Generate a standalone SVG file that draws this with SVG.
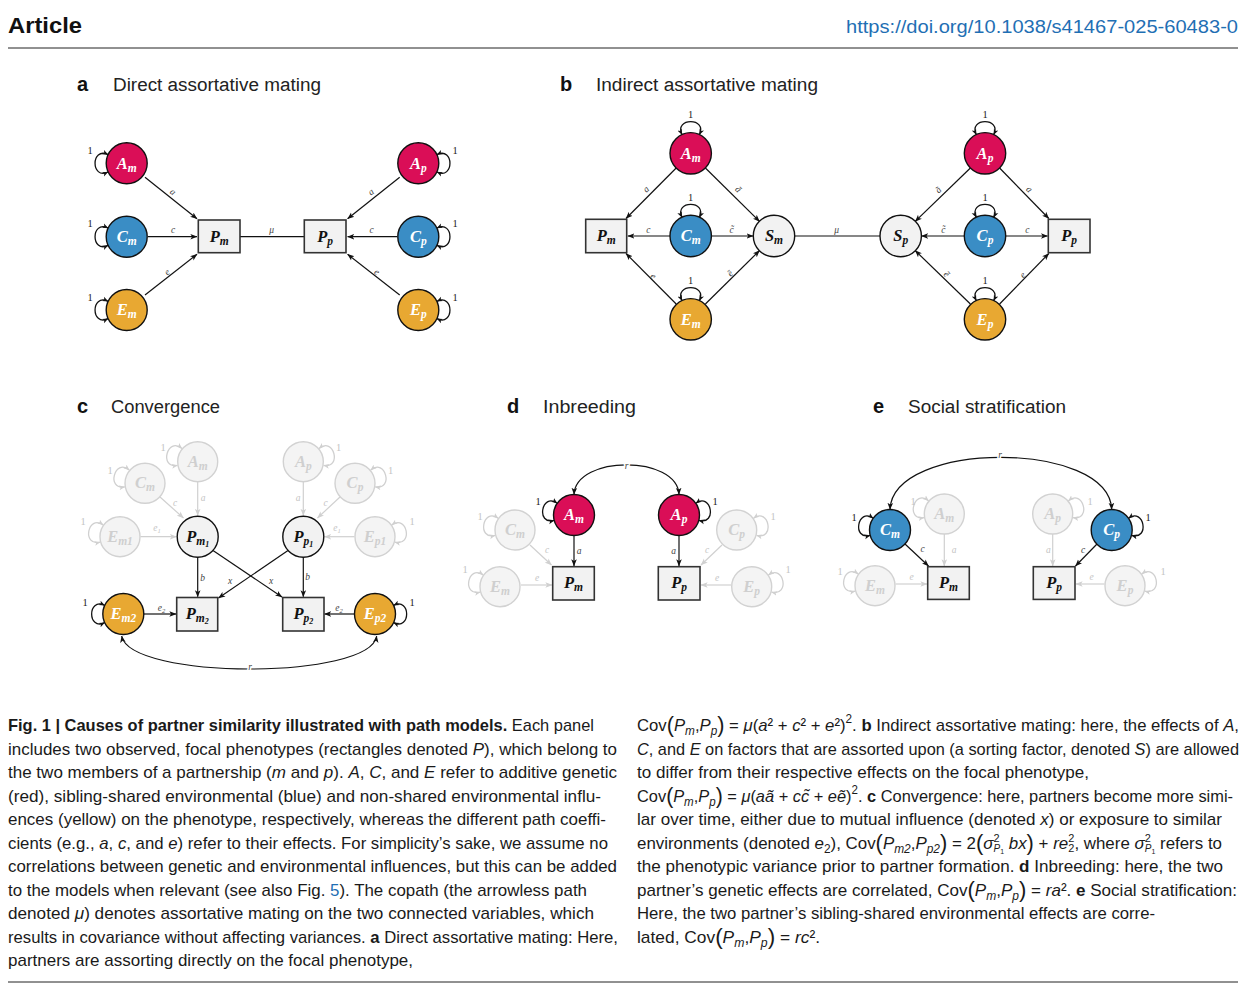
<svg xmlns="http://www.w3.org/2000/svg" width="1251" height="999" viewBox="0 0 1251 999">
<defs>
<style>
.hdr{font-family:"Liberation Sans",Arial,sans-serif}
.ttl{font-family:"Liberation Sans",Arial,sans-serif;font-size:18px;fill:#222}
.plab{font-family:"Liberation Sans",Arial,sans-serif;font-size:20px;font-weight:bold;fill:#111}
.cap{font-family:"Liberation Sans",Arial,sans-serif;font-size:17px;fill:#1a1a1a}
.i{font-style:italic}
.b{font-weight:bold}
.red{fill:#DA0E57;stroke:#111;stroke-width:1.4}
.blue{fill:#3A8DC5;stroke:#111;stroke-width:1.4}
.yel{fill:#E8A832;stroke:#111;stroke-width:1.4}
.gry{fill:#F2F2F2;stroke:#111;stroke-width:1.4}
.fad{fill:#F4F4F4;stroke:#D2D2D2;stroke-width:1.4}
.box{fill:#F2F2F2;stroke:#333;stroke-width:1.6}
.nl{font-family:"Liberation Serif","DejaVu Serif",serif;font-style:italic;font-weight:bold;font-size:16.5px;text-anchor:middle}
.s{font-size:11.5px}
.ss{font-size:8px}
.w{fill:#fff}.k{fill:#111}.f{fill:#CFCFCF}
.e{fill:none;stroke:#111;stroke-width:1.2;marker-end:url(#ah)}
.e2{fill:none;stroke:#111;stroke-width:1.2;marker-start:url(#ah);marker-end:url(#ah)}
.cp{fill:none;stroke:#111;stroke-width:1.2}
.ef{fill:none;stroke:#D0D0D0;stroke-width:1.2;marker-end:url(#ahf)}
.lp{fill:none;stroke:#111;stroke-width:1.3;marker-start:url(#lh);marker-end:url(#lh)}
.lpf{fill:none;stroke:#D0D0D0;stroke-width:1.3;marker-start:url(#lhf);marker-end:url(#lhf)}
.el{font-family:"Liberation Serif","DejaVu Serif",serif;font-style:italic;font-size:9.5px;fill:#444;text-anchor:middle}
.elf{fill:#C4C4C4}
.halo{paint-order:stroke;stroke:#fff;stroke-width:3}
.one{font-family:"Liberation Serif","DejaVu Serif",serif;font-size:10.5px;fill:#222;text-anchor:middle}
.onef{fill:#C4C4C4}
</style>
<marker id="ah" viewBox="0 0 10 10" refX="9.5" refY="5" markerWidth="7" markerHeight="7" markerUnits="userSpaceOnUse" orient="auto-start-reverse"><path d="M0,1 L10,5 L0,9 L2.5,5 z" fill="#111"/></marker>
<marker id="ahf" viewBox="0 0 10 10" refX="9.5" refY="5" markerWidth="7" markerHeight="7" markerUnits="userSpaceOnUse" orient="auto-start-reverse"><path d="M0,1 L10,5 L0,9 L2.5,5 z" fill="#D0D0D0"/></marker>
<marker id="lh" viewBox="0 0 10 10" refX="9.5" refY="5" markerWidth="6" markerHeight="6" markerUnits="userSpaceOnUse" orient="auto-start-reverse"><path d="M0,1 L10,5 L0,9 L2.5,5 z" fill="#111"/></marker>
<marker id="lhf" viewBox="0 0 10 10" refX="9.5" refY="5" markerWidth="6" markerHeight="6" markerUnits="userSpaceOnUse" orient="auto-start-reverse"><path d="M0,1 L10,5 L0,9 L2.5,5 z" fill="#D0D0D0"/></marker>
</defs>
<rect width="1251" height="999" fill="#fff"/>

<g id="header">
<text class="hdr" x="8" y="33" font-size="22" font-weight="bold" fill="#111" textLength="74" lengthAdjust="spacingAndGlyphs">Article</text>
<text class="hdr" x="846" y="33" font-size="17.5" fill="#1F6FB4" textLength="392" lengthAdjust="spacingAndGlyphs">https://doi.org/10.1038/s41467-025-60483-0</text>
<line x1="8" y1="48" x2="1238" y2="48" stroke="#222" stroke-width="1"/>
<line x1="8" y1="982" x2="1238" y2="982" stroke="#222" stroke-width="1"/>
</g>

<g id="titles">
<text class="plab" x="77" y="91">a</text>
<text class="ttl" x="113" y="91" textLength="208" lengthAdjust="spacingAndGlyphs">Direct assortative mating</text>
<text class="plab" x="560" y="91">b</text>
<text class="ttl" x="596" y="91" textLength="222" lengthAdjust="spacingAndGlyphs">Indirect assortative mating</text>
<text class="plab" x="77" y="413">c</text>
<text class="ttl" x="111" y="413" textLength="109" lengthAdjust="spacingAndGlyphs">Convergence</text>
<text class="plab" x="507" y="413">d</text>
<text class="ttl" x="543" y="413" textLength="93" lengthAdjust="spacingAndGlyphs">Inbreeding</text>
<text class="plab" x="873" y="413">e</text>
<text class="ttl" x="908" y="413" textLength="158" lengthAdjust="spacingAndGlyphs">Social stratification</text>
</g>

<!-- ================= PANEL A ================= -->
<g id="a-connectors">
<line class="e" x1="145" y1="177.3" x2="197" y2="218.8"/>
<line class="e" x1="148" y1="236.7" x2="197" y2="236.7"/>
<line class="e" x1="145" y1="295" x2="197" y2="254.3"/>
<line class="cp" x1="240" y1="236.7" x2="304.3" y2="236.7"/>
<line class="e" x1="399.7" y1="177.3" x2="347.6" y2="218.8"/>
<line class="e" x1="397" y1="236.7" x2="347.6" y2="236.7"/>
<line class="e" x1="399.7" y1="295" x2="347.6" y2="254.3"/>
<path class="lp" transform="translate(126.7,163.3)" d="M-18.6,-8.7 C-36,-17 -36,17 -18.6,8.7"/>
<path class="lp" transform="translate(126.7,236.7)" d="M-18.6,-8.7 C-36,-17 -36,17 -18.6,8.7"/>
<path class="lp" transform="translate(126.7,310)" d="M-18.6,-8.7 C-36,-17 -36,17 -18.6,8.7"/>
<path class="lp" transform="translate(418.3,163.3) rotate(180)" d="M-18.6,-8.7 C-36,-17 -36,17 -18.6,8.7"/>
<path class="lp" transform="translate(418.3,236.7) rotate(180)" d="M-18.6,-8.7 C-36,-17 -36,17 -18.6,8.7"/>
<path class="lp" transform="translate(418.3,310) rotate(180)" d="M-18.6,-8.7 C-36,-17 -36,17 -18.6,8.7"/>
<text class="el" transform="translate(173,192) rotate(39)" y="3">a</text>
<text class="el" x="173" y="233">c</text>
<text class="el" transform="translate(167,272) rotate(-38)" y="3">e</text>
<text class="el" x="271.7" y="233">μ</text>
<text class="el" transform="translate(371,192) rotate(-39)" y="3">a</text>
<text class="el" x="371.7" y="233">c</text>
<text class="el" transform="translate(377,272) rotate(38)" y="3">e</text>
<text class="one" x="90" y="153.8">1</text>
<text class="one" x="90" y="227.2">1</text>
<text class="one" x="90" y="300.5">1</text>
<text class="one" x="455" y="153.8">1</text>
<text class="one" x="455" y="227.2">1</text>
<text class="one" x="455" y="300.5">1</text>
</g>
<g id="a-Am"><circle class="red" cx="126.7" cy="163.3" r="20.5"/><text class="nl w" x="126.7" y="168.5">A<tspan dy="3" class="s">m</tspan></text></g>
<g id="a-Cm"><circle class="blue" cx="126.7" cy="236.7" r="20.5"/><text class="nl w" x="126.7" y="241.9">C<tspan dy="3" class="s">m</tspan></text></g>
<g id="a-Em"><circle class="yel" cx="126.7" cy="310" r="20.5"/><text class="nl w" x="126.7" y="315.2">E<tspan dy="3" class="s">m</tspan></text></g>
<g id="a-Pm"><rect class="box" x="198.3" y="220" width="41.7" height="32.7"/><text class="nl k" x="219.2" y="241.6">P<tspan dy="3" class="s">m</tspan></text></g>
<g id="a-Pp"><rect class="box" x="304.3" y="220" width="41.7" height="32.7"/><text class="nl k" x="325.2" y="241.6">P<tspan dy="3" class="s">p</tspan></text></g>
<g id="a-Ap"><circle class="red" cx="418.3" cy="163.3" r="20.5"/><text class="nl w" x="418.3" y="168.5">A<tspan dy="3" class="s">p</tspan></text></g>
<g id="a-Cp"><circle class="blue" cx="418.3" cy="236.7" r="20.5"/><text class="nl w" x="418.3" y="241.9">C<tspan dy="3" class="s">p</tspan></text></g>
<g id="a-Ep"><circle class="yel" cx="418.3" cy="310" r="20.5"/><text class="nl w" x="418.3" y="315.2">E<tspan dy="3" class="s">p</tspan></text></g>

<!-- ================= PANEL B ================= -->
<g id="b-connectors">
<line class="e" x1="676.2" y1="168" x2="626" y2="218.5"/>
<line class="e" x1="705.4" y1="168" x2="759.5" y2="221.4"/>
<line class="e" x1="670" y1="236" x2="627.8" y2="236"/>
<line class="e" x1="711.4" y1="236" x2="753.2" y2="236"/>
<line class="e" x1="676.2" y1="304" x2="626" y2="253.5"/>
<line class="e" x1="705.4" y1="304" x2="759.5" y2="250.6"/>
<line class="cp" x1="794.7" y1="236" x2="880" y2="236"/>
<line class="e" x1="970.4" y1="168" x2="915.2" y2="221.4"/>
<line class="e" x1="999.6" y1="168" x2="1048.8" y2="218.5"/>
<line class="e" x1="964.3" y1="236" x2="921.5" y2="236"/>
<line class="e" x1="1005.7" y1="236" x2="1047.6" y2="236"/>
<line class="e" x1="970.4" y1="304" x2="915.2" y2="250.6"/>
<line class="e" x1="999.6" y1="304" x2="1048.8" y2="253.5"/>
<path class="lp" transform="translate(690.7,153.3) rotate(90)" d="M-18.6,-8.7 C-36,-17 -36,17 -18.6,8.7"/>
<path class="lp" transform="translate(690.7,236) rotate(90)" d="M-18.6,-8.7 C-36,-17 -36,17 -18.6,8.7"/>
<path class="lp" transform="translate(690.7,319.3) rotate(90)" d="M-18.6,-8.7 C-36,-17 -36,17 -18.6,8.7"/>
<path class="lp" transform="translate(985,153.3) rotate(90)" d="M-18.6,-8.7 C-36,-17 -36,17 -18.6,8.7"/>
<path class="lp" transform="translate(985,236) rotate(90)" d="M-18.6,-8.7 C-36,-17 -36,17 -18.6,8.7"/>
<path class="lp" transform="translate(985,319.3) rotate(90)" d="M-18.6,-8.7 C-36,-17 -36,17 -18.6,8.7"/>
<text class="one" x="690.7" y="117.5">1</text>
<text class="one" x="690.7" y="200.5">1</text>
<text class="one" x="690.7" y="284">1</text>
<text class="one" x="985" y="117.5">1</text>
<text class="one" x="985" y="200.5">1</text>
<text class="one" x="985" y="284">1</text>
<text class="el" transform="translate(646,189.3) rotate(-45)" y="3">a</text>
<text class="el" transform="translate(738.3,189.3) rotate(45)" y="3">ã</text>
<text class="el" x="648.3" y="233">c</text>
<text class="el" x="731.7" y="233">c̃</text>
<text class="el" transform="translate(653.3,276) rotate(45)" y="3">e</text>
<text class="el" transform="translate(730,273.3) rotate(-45)" y="3">ẽ</text>
<text class="el" x="836.7" y="233">μ</text>
<text class="el" transform="translate(938.3,190) rotate(-45)" y="3">ã</text>
<text class="el" transform="translate(1029.3,189.3) rotate(45)" y="3">a</text>
<text class="el" x="943.3" y="233">c̃</text>
<text class="el" x="1027.3" y="233">c</text>
<text class="el" transform="translate(946.7,274) rotate(45)" y="3">ẽ</text>
<text class="el" transform="translate(1022.7,275) rotate(-45)" y="3">e</text>
</g>
<g id="b-Am"><circle class="red" cx="690.7" cy="153.3" r="20.7"/><text class="nl w" x="690.7" y="158.5">A<tspan dy="3" class="s">m</tspan></text></g>
<g id="b-Cm"><circle class="blue" cx="690.7" cy="236" r="20.7"/><text class="nl w" x="690.7" y="241.2">C<tspan dy="3" class="s">m</tspan></text></g>
<g id="b-Em"><circle class="yel" cx="690.7" cy="319.3" r="20.7"/><text class="nl w" x="690.7" y="324.5">E<tspan dy="3" class="s">m</tspan></text></g>
<g id="b-Pm"><rect class="box" x="585.7" y="219.3" width="41" height="33.4"/><text class="nl k" x="606.2" y="241.2">P<tspan dy="3" class="s">m</tspan></text></g>
<g id="b-Sm"><circle class="gry" cx="774" cy="236" r="20.7"/><text class="nl k" x="774" y="241.2">S<tspan dy="3" class="s">m</tspan></text></g>
<g id="b-Sp"><circle class="gry" cx="900.7" cy="236" r="20.7"/><text class="nl k" x="900.7" y="241.2">S<tspan dy="3" class="s">p</tspan></text></g>
<g id="b-Ap"><circle class="red" cx="985" cy="153.3" r="20.7"/><text class="nl w" x="985" y="158.5">A<tspan dy="3" class="s">p</tspan></text></g>
<g id="b-Cp"><circle class="blue" cx="985" cy="236" r="20.7"/><text class="nl w" x="985" y="241.2">C<tspan dy="3" class="s">p</tspan></text></g>
<g id="b-Ep"><circle class="yel" cx="985" cy="319.3" r="20.7"/><text class="nl w" x="985" y="324.5">E<tspan dy="3" class="s">p</tspan></text></g>
<g id="b-Pp"><rect class="box" x="1048.3" y="219.3" width="41.7" height="33.4"/><text class="nl k" x="1069.2" y="241.2">P<tspan dy="3" class="s">p</tspan></text></g>

<!-- ================= PANEL C ================= -->
<g id="c-connectors">
<line class="ef" x1="197.7" y1="482" x2="197.7" y2="515.5"/>
<line class="ef" x1="160" y1="497" x2="183.5" y2="518"/>
<line class="ef" x1="140.5" y1="536.7" x2="176.5" y2="536.7"/>
<line class="ef" x1="303.3" y1="482" x2="303.3" y2="515.5"/>
<line class="ef" x1="340" y1="497" x2="317.5" y2="518"/>
<line class="ef" x1="354.5" y1="536.7" x2="324.5" y2="536.7"/>
<line class="e" x1="197.7" y1="557.5" x2="197.7" y2="596.8"/>
<line class="e" x1="213" y1="550.5" x2="282" y2="597"/>
<line class="e" x1="288" y1="550.5" x2="218.5" y2="598"/>
<line class="e" x1="303.3" y1="557.5" x2="303.3" y2="596.8"/>
<line class="e" x1="144" y1="614" x2="176" y2="614"/>
<line class="e" x1="354.5" y1="614" x2="324.5" y2="614"/>
<path class="e2" d="M121.7,636 C130,680 370,680 376.7,636"/>
<path class="lp" transform="translate(123.3,614)" d="M-18.6,-8.7 C-36,-17 -36,17 -18.6,8.7"/>
<path class="lp" transform="translate(375,614) rotate(180)" d="M-18.6,-8.7 C-36,-17 -36,17 -18.6,8.7"/>
<path class="lpf" transform="translate(197.7,461.7) rotate(15)" d="M-18.6,-8.7 C-36,-17 -36,17 -18.6,8.7"/>
<path class="lpf" transform="translate(145,483.3) rotate(15)" d="M-18.6,-8.7 C-36,-17 -36,17 -18.6,8.7"/>
<path class="lpf" transform="translate(120,536.7) rotate(10)" d="M-18.6,-8.7 C-36,-17 -36,17 -18.6,8.7"/>
<path class="lpf" transform="translate(303.3,461.7) rotate(165)" d="M-18.6,-8.7 C-36,-17 -36,17 -18.6,8.7"/>
<path class="lpf" transform="translate(355,483.3) rotate(165)" d="M-18.6,-8.7 C-36,-17 -36,17 -18.6,8.7"/>
<path class="lpf" transform="translate(375,536.7) rotate(170)" d="M-18.6,-8.7 C-36,-17 -36,17 -18.6,8.7"/>
<text class="one" x="85" y="606">1</text>
<text class="one" x="412" y="606">1</text>
<text class="one onef" x="163" y="451">1</text>
<text class="one onef" x="110" y="473.5">1</text>
<text class="one onef" x="83" y="525">1</text>
<text class="one onef" x="338.5" y="451">1</text>
<text class="one onef" x="390.5" y="473.5">1</text>
<text class="one onef" x="412" y="525">1</text>
<text class="el elf" x="203" y="501">a</text>
<text class="el elf" x="175" y="506">c</text>
<text class="el elf" x="157" y="531">e<tspan font-size="6.5" dy="2">1</tspan></text>
<text class="el elf" x="298" y="501">a</text>
<text class="el elf" x="325.5" y="506">c</text>
<text class="el elf" x="337" y="531">e<tspan font-size="6.5" dy="2">1</tspan></text>
<text class="el" x="202.7" y="581">b</text>
<text class="el" x="307.5" y="580">b</text>
<text class="el" x="230" y="584">x</text>
<text class="el" x="271" y="584">x</text>
<text class="el" x="161.5" y="611">e<tspan font-size="6.5" dy="2">2</tspan></text>
<text class="el" x="339" y="611">e<tspan font-size="6.5" dy="2">2</tspan></text>
<text class="el halo" x="250" y="670">r</text>
</g>
<g id="c-Am"><circle class="fad" cx="197.7" cy="461.7" r="20"/><text class="nl f" x="197.7" y="466.8">A<tspan dy="3" class="s">m</tspan></text></g>
<g id="c-Cm"><circle class="fad" cx="145" cy="483.3" r="20"/><text class="nl f" x="145" y="488.4">C<tspan dy="3" class="s">m</tspan></text></g>
<g id="c-Em1"><circle class="fad" cx="120" cy="536.7" r="20"/><text class="nl f" x="120" y="541.8">E<tspan dy="3" class="s">m1</tspan></text></g>
<g id="c-Pm1"><circle class="gry" cx="197.7" cy="536.7" r="20.5"/><text class="nl k" x="197.7" y="541.6">P<tspan dy="3" class="s">m</tspan><tspan dy="2" class="ss">1</tspan></text></g>
<g id="c-Pp1"><circle class="gry" cx="303.3" cy="536.7" r="20.5"/><text class="nl k" x="303.3" y="541.6">P<tspan dy="3" class="s">p</tspan><tspan dy="2" class="ss">1</tspan></text></g>
<g id="c-Ap"><circle class="fad" cx="303.3" cy="461.7" r="20"/><text class="nl f" x="303.3" y="466.8">A<tspan dy="3" class="s">p</tspan></text></g>
<g id="c-Cp"><circle class="fad" cx="355" cy="483.3" r="20"/><text class="nl f" x="355" y="488.4">C<tspan dy="3" class="s">p</tspan></text></g>
<g id="c-Ep1"><circle class="fad" cx="375" cy="536.7" r="20"/><text class="nl f" x="375" y="541.8">E<tspan dy="3" class="s">p1</tspan></text></g>
<g id="c-Em2"><circle class="yel" cx="123.3" cy="614" r="20.5"/><text class="nl w" x="123.3" y="619">E<tspan dy="3" class="s">m2</tspan></text></g>
<g id="c-Pm2"><rect class="box" x="176.7" y="597.5" width="41" height="33.5"/><text class="nl k" x="197.2" y="618.6">P<tspan dy="3" class="s">m</tspan><tspan dy="2" class="ss">2</tspan></text></g>
<g id="c-Pp2"><rect class="box" x="282.7" y="597.5" width="41.3" height="33.5"/><text class="nl k" x="303.3" y="618.6">P<tspan dy="3" class="s">p</tspan><tspan dy="2" class="ss">2</tspan></text></g>
<g id="c-Ep2"><circle class="yel" cx="375" cy="614" r="20.5"/><text class="nl w" x="375" y="619">E<tspan dy="3" class="s">p2</tspan></text></g>

<!-- ================= PANEL D ================= -->
<g id="d-connectors">
<path class="e2" d="M574,494.5 C576,455 677,455 679,494.5"/>
<line class="e" x1="574" y1="536" x2="574" y2="566"/>
<line class="e" x1="679" y1="536" x2="679" y2="566"/>
<line class="ef" x1="530" y1="545" x2="551.5" y2="565"/>
<line class="ef" x1="521" y1="585" x2="552" y2="585"/>
<line class="ef" x1="722" y1="545" x2="701" y2="565"/>
<line class="ef" x1="731" y1="585" x2="701" y2="585"/>
<path class="lp" transform="translate(574,515) rotate(10)" d="M-18.6,-8.7 C-36,-17 -36,17 -18.6,8.7"/>
<path class="lp" transform="translate(679,515) rotate(170)" d="M-18.6,-8.7 C-36,-17 -36,17 -18.6,8.7"/>
<path class="lpf" transform="translate(515,530) rotate(10)" d="M-18.6,-8.7 C-36,-17 -36,17 -18.6,8.7"/>
<path class="lpf" transform="translate(500,586.7) rotate(10)" d="M-18.6,-8.7 C-36,-17 -36,17 -18.6,8.7"/>
<path class="lpf" transform="translate(736.7,530) rotate(170)" d="M-18.6,-8.7 C-36,-17 -36,17 -18.6,8.7"/>
<path class="lpf" transform="translate(751.7,586.7) rotate(170)" d="M-18.6,-8.7 C-36,-17 -36,17 -18.6,8.7"/>
<text class="one" x="538" y="505">1</text>
<text class="one" x="715" y="505">1</text>
<text class="one onef" x="480" y="520">1</text>
<text class="one onef" x="465" y="572.5">1</text>
<text class="one onef" x="773" y="520">1</text>
<text class="one onef" x="788" y="572.5">1</text>
<text class="el halo" x="626.5" y="468.5">r</text>
<text class="el" x="579" y="553.5">a</text>
<text class="el" x="673.5" y="553.5">a</text>
<text class="el elf" x="547" y="553">c</text>
<text class="el elf" x="537" y="580.5">e</text>
<text class="el elf" x="707" y="553">c</text>
<text class="el elf" x="717" y="580.5">e</text>
</g>
<g id="d-Am"><circle class="red" cx="574" cy="515" r="20.5"/><text class="nl w" x="574" y="520.2">A<tspan dy="3" class="s">m</tspan></text></g>
<g id="d-Ap"><circle class="red" cx="679" cy="515" r="20.5"/><text class="nl w" x="679" y="520.2">A<tspan dy="3" class="s">p</tspan></text></g>
<g id="d-Cm"><circle class="fad" cx="515" cy="530" r="20"/><text class="nl f" x="515" y="535.1">C<tspan dy="3" class="s">m</tspan></text></g>
<g id="d-Em"><circle class="fad" cx="500" cy="586.7" r="20"/><text class="nl f" x="500" y="591.8">E<tspan dy="3" class="s">m</tspan></text></g>
<g id="d-Cp"><circle class="fad" cx="736.7" cy="530" r="20"/><text class="nl f" x="736.7" y="535.1">C<tspan dy="3" class="s">p</tspan></text></g>
<g id="d-Ep"><circle class="fad" cx="751.7" cy="586.7" r="20"/><text class="nl f" x="751.7" y="591.8">E<tspan dy="3" class="s">p</tspan></text></g>
<g id="d-Pm"><rect class="box" x="552.7" y="566.7" width="41.6" height="33.3"/><text class="nl k" x="573.5" y="588.3">P<tspan dy="3" class="s">m</tspan></text></g>
<g id="d-Pp"><rect class="box" x="658.3" y="566.7" width="41.7" height="33.3"/><text class="nl k" x="679.2" y="588.3">P<tspan dy="3" class="s">p</tspan></text></g>

<!-- ================= PANEL E ================= -->
<g id="e-connectors">
<path class="e2" d="M890,509.5 C893,440 1109,440 1111.7,509.5"/>
<line class="e" x1="905" y1="544" x2="928.5" y2="566"/>
<line class="ef" x1="944.3" y1="534" x2="944.3" y2="566"/>
<line class="ef" x1="895.5" y1="584" x2="927" y2="584"/>
<line class="e" x1="1097" y1="544" x2="1075.5" y2="566"/>
<line class="ef" x1="1052.7" y1="534" x2="1052.7" y2="566"/>
<line class="ef" x1="1104.5" y1="584" x2="1076" y2="584"/>
<path class="lp" transform="translate(890,530) rotate(10)" d="M-18.6,-8.7 C-36,-17 -36,17 -18.6,8.7"/>
<path class="lp" transform="translate(1111.7,530) rotate(170)" d="M-18.6,-8.7 C-36,-17 -36,17 -18.6,8.7"/>
<path class="lpf" transform="translate(944.3,514) rotate(15)" d="M-18.6,-8.7 C-36,-17 -36,17 -18.6,8.7"/>
<path class="lpf" transform="translate(875,585.7) rotate(10)" d="M-18.6,-8.7 C-36,-17 -36,17 -18.6,8.7"/>
<path class="lpf" transform="translate(1052.7,514) rotate(165)" d="M-18.6,-8.7 C-36,-17 -36,17 -18.6,8.7"/>
<path class="lpf" transform="translate(1125,585.7) rotate(170)" d="M-18.6,-8.7 C-36,-17 -36,17 -18.6,8.7"/>
<text class="one" x="854" y="520.5">1</text>
<text class="one" x="1148" y="520.5">1</text>
<text class="one onef" x="913" y="505">1</text>
<text class="one onef" x="840" y="575">1</text>
<text class="one onef" x="1090" y="505">1</text>
<text class="one onef" x="1163" y="574.5">1</text>
<text class="el halo" x="1000" y="458">r</text>
<text class="el" x="922.7" y="552">c</text>
<text class="el" x="1083" y="552.5">c</text>
<text class="el elf" x="954" y="553">a</text>
<text class="el elf" x="1048.3" y="553">a</text>
<text class="el elf" x="911.7" y="580">e</text>
<text class="el elf" x="1091.7" y="580">e</text>
</g>
<g id="e-Cm"><circle class="blue" cx="890" cy="530" r="20.5"/><text class="nl w" x="890" y="535.2">C<tspan dy="3" class="s">m</tspan></text></g>
<g id="e-Am"><circle class="fad" cx="944.3" cy="514" r="20"/><text class="nl f" x="944.3" y="519.1">A<tspan dy="3" class="s">m</tspan></text></g>
<g id="e-Em"><circle class="fad" cx="875" cy="585.7" r="20"/><text class="nl f" x="875" y="590.8">E<tspan dy="3" class="s">m</tspan></text></g>
<g id="e-Pm"><rect class="box" x="927.7" y="566.7" width="41.6" height="32.7"/><text class="nl k" x="948.5" y="588">P<tspan dy="3" class="s">m</tspan></text></g>
<g id="e-Pp"><rect class="box" x="1033.3" y="566.7" width="41.7" height="32.7"/><text class="nl k" x="1054.2" y="588">P<tspan dy="3" class="s">p</tspan></text></g>
<g id="e-Ap"><circle class="fad" cx="1052.7" cy="514" r="20"/><text class="nl f" x="1052.7" y="519.1">A<tspan dy="3" class="s">p</tspan></text></g>
<g id="e-Cp"><circle class="blue" cx="1111.7" cy="530" r="20.5"/><text class="nl w" x="1111.7" y="535.2">C<tspan dy="3" class="s">p</tspan></text></g>
<g id="e-Ep"><circle class="fad" cx="1125" cy="585.7" r="20"/><text class="nl f" x="1125" y="590.8">E<tspan dy="3" class="s">p</tspan></text></g>

<!-- ================= CAPTION ================= -->
<g id="caption-left">
<text class="cap" x="8" y="731" textLength="586" lengthAdjust="spacingAndGlyphs"><tspan class="b">Fig. 1 | Causes of partner similarity illustrated with path models.</tspan> Each panel</text>
<text class="cap" x="8" y="754.5" textLength="609" lengthAdjust="spacingAndGlyphs">includes two observed, focal phenotypes (rectangles denoted <tspan class="i">P</tspan>), which belong to</text>
<text class="cap" x="8" y="778" textLength="609" lengthAdjust="spacingAndGlyphs">the two members of a partnership (<tspan class="i">m</tspan> and <tspan class="i">p</tspan>). <tspan class="i">A</tspan>, <tspan class="i">C</tspan>, and <tspan class="i">E</tspan> refer to additive genetic</text>
<text class="cap" x="8" y="801.5" textLength="593" lengthAdjust="spacingAndGlyphs">(red), sibling-shared environmental (blue) and non-shared environmental influ-</text>
<text class="cap" x="8" y="825" textLength="598" lengthAdjust="spacingAndGlyphs">ences (yellow) on the phenotype, respectively, whereas the different path coeffi-</text>
<text class="cap" x="8" y="848.5" textLength="600" lengthAdjust="spacingAndGlyphs">cients (e.g., <tspan class="i">a</tspan>, <tspan class="i">c</tspan>, and <tspan class="i">e</tspan>) refer to their effects. For simplicity’s sake, we assume no</text>
<text class="cap" x="8" y="872" textLength="609" lengthAdjust="spacingAndGlyphs">correlations between genetic and environmental influences, but this can be added</text>
<text class="cap" x="8" y="895.5" textLength="579" lengthAdjust="spacingAndGlyphs">to the models when relevant (see also Fig. <tspan fill="#1F6FB4">5</tspan>). The copath (the arrowless path</text>
<text class="cap" x="8" y="919" textLength="586" lengthAdjust="spacingAndGlyphs">denoted <tspan class="i">μ</tspan>) denotes assortative mating on the two connected variables, which</text>
<text class="cap" x="8" y="942.5" textLength="610" lengthAdjust="spacingAndGlyphs">results in covariance without affecting variances. <tspan class="b">a</tspan> Direct assortative mating: Here,</text>
<text class="cap" x="8" y="966" textLength="405" lengthAdjust="spacingAndGlyphs">partners are assorting directly on the focal phenotype,</text>
</g>
<g id="caption-right">
<text class="cap" x="637" y="731" textLength="602" lengthAdjust="spacingAndGlyphs">Cov<tspan font-size="22" dy="1">(</tspan><tspan class="i" dy="-1">P</tspan><tspan class="i" font-size="12" dy="4">m</tspan><tspan dy="-4">,</tspan><tspan class="i">P</tspan><tspan class="i" font-size="12" dy="4">p</tspan><tspan font-size="22" dy="-3">)</tspan><tspan dy="-1"> = </tspan><tspan class="i">μ</tspan>(<tspan class="i">a</tspan>² + <tspan class="i">c</tspan>² + <tspan class="i">e</tspan>²)<tspan font-size="12" dy="-8">2</tspan><tspan dy="8">. </tspan><tspan class="b">b</tspan> Indirect assortative mating: here, the effects of <tspan class="i">A</tspan>,</text>
<text class="cap" x="637" y="754.5" textLength="602" lengthAdjust="spacingAndGlyphs"><tspan class="i">C</tspan>, and <tspan class="i">E</tspan> on factors that are assorted upon (a sorting factor, denoted <tspan class="i">S</tspan>) are allowed</text>
<text class="cap" x="637" y="778" textLength="452" lengthAdjust="spacingAndGlyphs">to differ from their respective effects on the focal phenotype,</text>
<text class="cap" x="637" y="801.5" textLength="596" lengthAdjust="spacingAndGlyphs">Cov<tspan font-size="22" dy="1">(</tspan><tspan class="i" dy="-1">P</tspan><tspan class="i" font-size="12" dy="4">m</tspan><tspan dy="-4">,</tspan><tspan class="i">P</tspan><tspan class="i" font-size="12" dy="4">p</tspan><tspan font-size="22" dy="-3">)</tspan><tspan dy="-1"> = </tspan><tspan class="i">μ</tspan>(<tspan class="i">aã</tspan> + <tspan class="i">cc̃</tspan> + <tspan class="i">eẽ</tspan>)<tspan font-size="12" dy="-8">2</tspan><tspan dy="8">. </tspan><tspan class="b">c</tspan> Convergence: here, partners become more simi-</text>
<text class="cap" x="637" y="825" textLength="585" lengthAdjust="spacingAndGlyphs">lar over time, either due to mutual influence (denoted <tspan class="i">x</tspan>) or exposure to similar</text>
<text class="cap" x="637" y="848.5" textLength="585" lengthAdjust="spacingAndGlyphs">environments (denoted <tspan class="i">e</tspan><tspan font-size="12" dy="4">2</tspan><tspan dy="-4">), Cov</tspan><tspan font-size="22" dy="1">(</tspan><tspan class="i" dy="-1">P</tspan><tspan class="i" font-size="12" dy="4">m2</tspan><tspan dy="-4">,</tspan><tspan class="i">P</tspan><tspan class="i" font-size="12" dy="4">p2</tspan><tspan font-size="22" dy="-3">)</tspan><tspan dy="-1"> = 2</tspan><tspan font-size="22" dy="1">(</tspan><tspan class="i" dy="-1">σ</tspan><tspan font-size="11" dy="-7">2</tspan><tspan class="i" font-size="10" dx="-6" dy="10">P</tspan><tspan font-size="7" dy="2">1</tspan><tspan class="i" dy="-5"> bx</tspan><tspan font-size="22" dy="1">)</tspan><tspan dy="-1"> + </tspan><tspan class="i">re</tspan><tspan font-size="11" dy="-7">2</tspan><tspan font-size="11" dx="-6" dy="10">2</tspan><tspan dy="-3">, where </tspan><tspan class="i">σ</tspan><tspan font-size="11" dy="-7">2</tspan><tspan class="i" font-size="10" dx="-6" dy="10">P</tspan><tspan font-size="7" dy="2">1</tspan><tspan dy="-5">  refers to</tspan></text>
<text class="cap" x="637" y="872" textLength="586" lengthAdjust="spacingAndGlyphs">the phenotypic variance prior to partner formation. <tspan class="b">d</tspan> Inbreeding: here, the two</text>
<text class="cap" x="637" y="895.5" textLength="600" lengthAdjust="spacingAndGlyphs">partner’s genetic effects are correlated, Cov<tspan font-size="22" dy="1">(</tspan><tspan class="i" dy="-1">P</tspan><tspan class="i" font-size="12" dy="4">m</tspan><tspan dy="-4">,</tspan><tspan class="i">P</tspan><tspan class="i" font-size="12" dy="4">p</tspan><tspan font-size="22" dy="-3">)</tspan><tspan dy="-1"> = </tspan><tspan class="i">ra</tspan>². <tspan class="b">e</tspan> Social stratification:</text>
<text class="cap" x="637" y="919" textLength="518" lengthAdjust="spacingAndGlyphs">Here, the two partner’s sibling-shared environmental effects are corre-</text>
<text class="cap" x="637" y="942.5" textLength="183" lengthAdjust="spacingAndGlyphs">lated, Cov<tspan font-size="22" dy="1">(</tspan><tspan class="i" dy="-1">P</tspan><tspan class="i" font-size="12" dy="4">m</tspan><tspan dy="-4">,</tspan><tspan class="i">P</tspan><tspan class="i" font-size="12" dy="4">p</tspan><tspan font-size="22" dy="-3">)</tspan><tspan dy="-1"> = </tspan><tspan class="i">rc</tspan>².</text>
</g>
</svg>
